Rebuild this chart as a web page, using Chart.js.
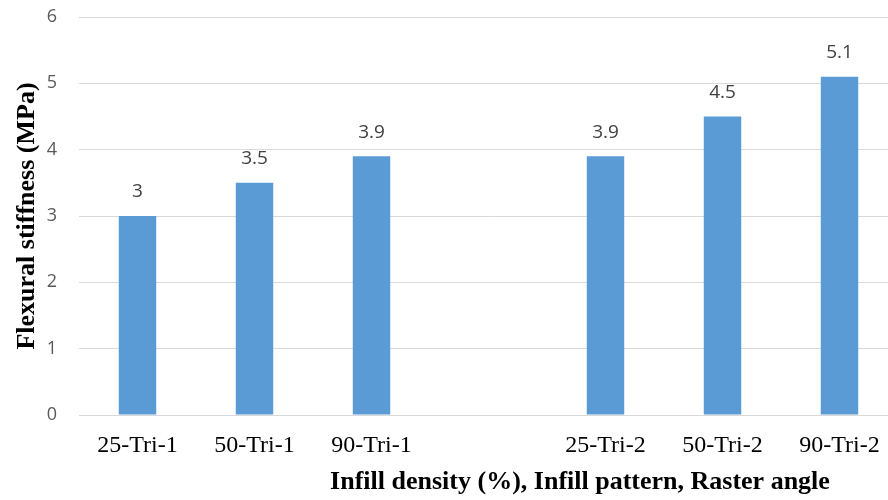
<!DOCTYPE html>
<html>
<head>
<meta charset="utf-8">
<script src="https://cdn.jsdelivr.net/npm/chart.js@4/dist/chart.umd.min.js"></script>
<style>
    html, body { margin: 0; padding: 0; background: #fff; overflow: hidden; }
    #wrap { width: 910px; height: 500px; }
</style>
</head>
<body>
<div id="wrap"><canvas id="stiffnessChart" width="910" height="500"></canvas></div>
<script>
// empty slot separates the two triangle pattern groups
const specimens = ['25-Tri-1', '50-Tri-1', '90-Tri-1', '', '25-Tri-2', '50-Tri-2', '90-Tri-2'];
const stiffness = [3, 3.5, 3.9, null, 3.9, 4.5, 5.1];
const yTicks = [0, 1, 2, 3, 4, 5, 6];

const xTitle = 'Infill density (%), Infill pattern, Raster angle';
const yTitle = 'Flexural stiffness (MPa)';

// value labels above each bar
const barLabels = {
    id: 'barLabels',
    afterDatasetsDraw(chart) {
        const ctx = chart.ctx;
        const meta = chart.getDatasetMeta(0);
        ctx.save();
        ctx.font = '19px "Open Sans"';
        ctx.fillStyle = '#404040';
        ctx.textAlign = 'center';
        ctx.textBaseline = 'middle';
        meta.data.forEach((bar, i) => {
            if (stiffness[i] == null) return;
            ctx.fillText(String(stiffness[i]), bar.x, bar.y - 24);
        });
        ctx.restore();
    }
};

// x axis title sits off-centre, drawn by hand
const axisTitles = {
    id: 'axisTitles',
    afterDraw(chart) {
        const ctx = chart.ctx;
        const area = chart.chartArea;
        ctx.save();
        ctx.fillStyle = '#000';
        ctx.font = 'bold 26px "Liberation Serif"';
        ctx.textAlign = 'center';
        ctx.textBaseline = 'middle';
        ctx.fillText(xTitle, 580, 482);
        ctx.translate(27, (area.top + area.bottom) / 2);
        ctx.rotate(-Math.PI / 2);
        ctx.fillText(yTitle, 0, 0);
        ctx.restore();
    }
};

new Chart(document.getElementById('stiffnessChart'), {
    type: 'bar',
    data: {
        labels: specimens,
        datasets: [{
            data: stiffness,
            backgroundColor: '#5B9BD5',
            borderWidth: 0,
            categoryPercentage: 1,
            barPercentage: 0.32
        }]
    },
    options: {
        responsive: false,
        animation: false,
        layout: { padding: { top: 17, right: 12, left: 0, bottom: 0 } },
        plugins: { legend: { display: false }, tooltip: { enabled: false } },
        scales: {
            x: {
                grid: { display: false },
                border: { color: '#D9D9D9', width: 1 },
                ticks: {
                    color: '#000',
                    font: { family: 'Liberation Serif', size: 24 },
                    padding: 8,
                    maxRotation: 0,
                    autoSkip: false
                },
                afterFit(scale) {
                    scale.height = 85;
                    scale.paddingLeft = 0;
                    scale.paddingRight = 0;
                }
            },
            y: {
                min: 0,
                max: 6,
                afterBuildTicks(scale) { scale.ticks = yTicks.map(v => ({ value: v })); },
                grid: { color: '#D9D9D9', lineWidth: 1, drawTicks: false },
                border: { display: false },
                ticks: {
                    color: '#595959',
                    font: { family: 'Open Sans', size: 18 },
                    padding: 22
                },
                afterFit(scale) {
                    scale.width = 79;
                    scale.paddingTop = 0;
                    scale.paddingBottom = 0;
                }
            }
        }
    },
    plugins: [barLabels, axisTitles]
});
</script>
</body>
</html>
